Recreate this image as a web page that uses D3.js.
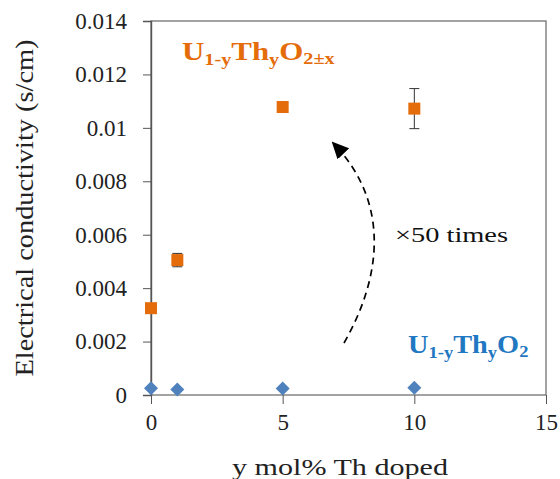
<!DOCTYPE html>
<html>
<head>
<meta charset="utf-8">
<style>
  html, body { margin: 0; padding: 0; background: #fff; }
  .axis text { fill: #222; }
  .axis path, .axis line { stroke: #555; }
</style>
</head>
<body>
<div id="chart"></div>
<script src="https://cdn.jsdelivr.net/npm/d3@7"></script>
<script>

var dopeLevels = [0, 1, 5, 10],
    condOxidized = [0.00325, 0.00505, 0.01078, 0.01072],
    errOxidized = [0, 0.00025, 0, 0.00075],
    condStoich = [0.00025, 0.00021, 0.00024, 0.00027];

var xTicks = [0, 5, 10, 15],
    yTicks = [0, 0.002, 0.004, 0.006, 0.008, 0.01, 0.012, 0.014];

var W = 560, H = 479;
var margin = {top: 21, right: 14, bottom: 84, left: 151},
    width = W - margin.left - margin.right,
    height = H - margin.top - margin.bottom;

var serif = "Liberation Serif";
var orange = "#e46c0a", blue = "#4f81bd", blueText = "#1f78c1";

var x = d3.scaleLinear().domain([0, 15]).range([0, width]);
var y = d3.scaleLinear().domain([0, 0.014]).range([height, 0]);

var svg = d3.select("#chart").append("svg")
    .attr("width", W)
    .attr("height", H)
    .attr("font-family", serif);

var defs = svg.append("defs");
defs.append("marker")
    .attr("id", "head")
    .attr("viewBox", "0 0 10 10")
    .attr("refX", 8).attr("refY", 5)
    .attr("markerUnits", "userSpaceOnUse")
    .attr("orient", "auto")
    .attr("markerWidth", 17).attr("markerHeight", 16)
    .attr("preserveAspectRatio", "none")
  .append("path")
    .attr("d", "M0,0 L10,5 L0,10 Z")
    .attr("fill", "#000");

var g = svg.append("g")
    .attr("transform", "translate(" + margin.left + "," + margin.top + ")");

// frame
g.append("rect")
    .attr("width", width).attr("height", height)
    .attr("fill", "none").attr("stroke", "#666").attr("stroke-width", 1.2);

g.append("g")
    .attr("class", "axis")
    .attr("transform", "translate(0," + height + ")")
    .call(d3.axisBottom(x).tickValues(xTicks).tickSize(9).tickPadding(10).tickFormat(d3.format("d")))
    .attr("font-family", serif).attr("font-size", 23)
    .call(function(a) { a.select(".domain").remove(); });

g.append("g")
    .attr("class", "axis")
    .call(d3.axisLeft(y).tickValues(yTicks).tickSize(8).tickPadding(16)
      .tickFormat(function(d) { return d === 0 ? "0" : String(+d.toFixed(3)); }))
    .attr("font-family", serif).attr("font-size", 23)
    .call(function(a) { a.select(".domain").attr("stroke", "#333").attr("stroke-width", 1.4); });

// axis titles
svg.append("text")
    .attr("x", 340).attr("y", 475)
    .attr("text-anchor", "middle")
    .attr("font-size", 23).attr("fill", "#222")
    .attr("textLength", 216).attr("lengthAdjust", "spacingAndGlyphs")
    .text("y mol% Th doped");

svg.append("text")
    .attr("transform", "translate(33,208) rotate(-90)")
    .attr("text-anchor", "middle")
    .attr("font-size", 26).attr("fill", "#222")
    .attr("textLength", 337).attr("lengthAdjust", "spacingAndGlyphs")
    .text("Electrical conductivity (s/cm)");

// error bars
var ox = dopeLevels.map(function(d, i) { return {x: d, y: condOxidized[i], e: errOxidized[i]}; });
var eb = g.selectAll(".err").data(ox.filter(function(d) { return d.e > 0; })).enter().append("g");
eb.append("line")
    .attr("x1", function(d) { return x(d.x); }).attr("x2", function(d) { return x(d.x); })
    .attr("y1", function(d) { return y(d.y - d.e); }).attr("y2", function(d) { return y(d.y + d.e); })
    .attr("stroke", "#333");
[-1, 1].forEach(function(s) {
  eb.append("line")
      .attr("x1", function(d) { return x(d.x) - 5; }).attr("x2", function(d) { return x(d.x) + 5; })
      .attr("y1", function(d) { return y(d.y + s * d.e); }).attr("y2", function(d) { return y(d.y + s * d.e); })
      .attr("stroke", "#333");
});

// squares
g.selectAll(".sq").data(ox).enter().append("rect")
    .attr("x", function(d) { return x(d.x) - 6; })
    .attr("y", function(d) { return y(d.y) - 6; })
    .attr("width", 12).attr("height", 12)
    .attr("fill", orange);

// diamonds
g.selectAll(".dm").data(condStoich).enter().append("path")
    .attr("transform", function(d, i) { return "translate(" + x(dopeLevels[i]) + "," + y(d) + ")"; })
    .attr("d", "M0,-7 L7,0 L0,7 L-7,0 Z")
    .attr("fill", blue);

// curved dashed arrow
svg.append("path")
    .attr("d", "M344,343 C380,280 392,205 334,144")
    .attr("fill", "none").attr("stroke", "#000")
    .attr("stroke-width", 1.7).attr("stroke-dasharray", "7,5")
    .attr("marker-end", "url(#head)");

svg.append("text")
    .attr("x", 395).attr("y", 242)
    .attr("font-size", 22).attr("fill", "#111")
    .attr("textLength", 113).attr("lengthAdjust", "spacingAndGlyphs")
    .text("\u00d750 times");

// formula labels, stretched a little like the source
function formula(xp, yp, sx, color, parts) {
  var t = svg.append("text")
      .attr("transform", "translate(" + xp + "," + yp + ") scale(" + sx + ",1)")
      .attr("fill", color).attr("font-weight", "bold").attr("font-size", 26);
  parts.forEach(function(p) {
    t.append("tspan")
        .attr("font-size", p[1] ? 17 : 26)
        .attr("dy", p[2] || 0)
        .text(p[0]);
  });
}

formula(182, 60, 1.19, orange, [["U"], ["1-y", 1, 5], ["Th", 0, -5], ["y", 1, 5], ["O", 0, -5], ["2\u00b1x", 1, 4]]);
formula(408, 353, 1.09, blueText, [["U"], ["1-y", 1, 5], ["Th", 0, -5], ["y", 1, 5], ["O", 0, -5], ["2", 1, 4]]);

</script>
</body>
</html>
